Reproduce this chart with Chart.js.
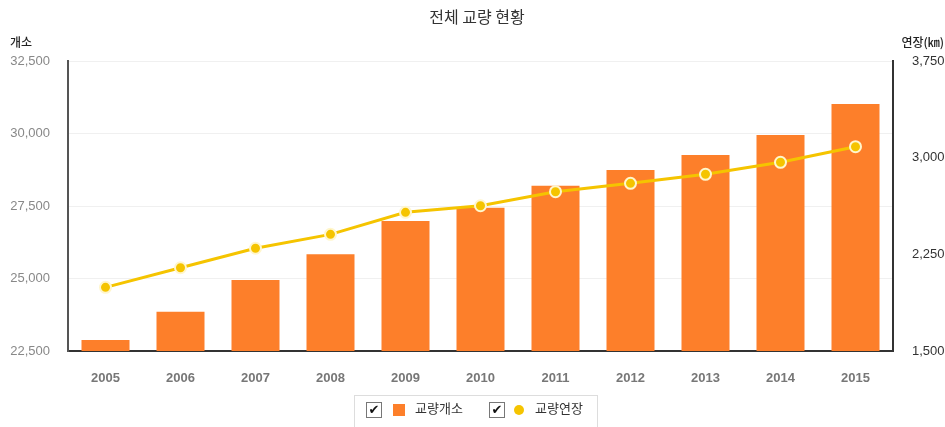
<!DOCTYPE html>
<html>
<head>
<meta charset="utf-8">
<script src="https://cdn.jsdelivr.net/npm/chart.js@4"></script>
<style>
  body { margin: 0; background: #fff; font-family: "Liberation Sans", Arial, sans-serif; }
  #wrap { position: relative; width: 945px; height: 427px; }
  #legend {
    position: absolute; left: 354px; top: 395px; width: 244px; height: 40px;
    border: 1px solid #ddd; box-sizing: border-box;
    font-family: "Noto Sans CJK KR", sans-serif; font-size: 13px; color: #333;
  }
  .chk {
    position: absolute; top: 6px; width: 14px; height: 14px; border: 1px solid #777;
    background: #fff; font-size: 13px; line-height: 14px; text-align: center; color: #111;
    font-family: "DejaVu Sans", sans-serif; font-weight: bold;
  }
  .lbl { position: absolute; top: 2px; }
</style>
</head>
<body>
<div id="wrap">
  <canvas id="bridges" width="945" height="427"></canvas>
  <div id="legend">
    <span class="chk" style="left:11px">✔</span>
    <span style="position:absolute;left:38px;top:8px;width:12px;height:12px;background:#fd7f2a"></span>
    <span class="lbl" style="left:60px">교량개소</span>
    <span class="chk" style="left:134px">✔</span>
    <span style="position:absolute;left:159px;top:9px;width:10px;height:10px;border-radius:50%;background:#f5c400"></span>
    <span class="lbl" style="left:180px">교량연장</span>
  </div>
</div>
<script>
// Data
var years = ["2005", "2006", "2007", "2008", "2009", "2010", "2011", "2012", "2013", "2014", "2015"];
var bridgeCount = [22880, 23855, 24948, 25834, 26983, 27441, 28200, 28741, 29259, 29948, 31017];
var bridgeLength = [1994, 2146, 2297, 2405, 2576, 2627, 2736, 2801, 2871, 2964, 3085];
var countTicks = [22500, 25000, 27500, 30000, 32500];
var lengthTicks = [1500, 2250, 3000, 3750];

// Title and the two axis captions
var captions = {
  id: "captions",
  afterDraw: function (chart) {
    var ctx = chart.ctx;
    ctx.save();
    ctx.fillStyle = "#333";
    ctx.textBaseline = "middle";
    ctx.font = "16px 'Noto Sans CJK KR'";
    ctx.textAlign = "center";
    ctx.fillText("전체 교량 현황", 477, 17);
    ctx.fillStyle = "#222";
    ctx.font = "500 12px 'Noto Sans CJK KR'";
    ctx.textAlign = "left";
    ctx.fillText("개소", 10, 42);
    ctx.textAlign = "right";
    ctx.fillText("연장(㎞)", 944, 42);
    ctx.restore();
  }
};

var ctx = document.getElementById("bridges").getContext("2d");
var chart_bridges = new Chart(ctx, {
  data: {
    labels: years,
    datasets: [{
      type: "line",
      label: "교량연장",
      data: bridgeLength,
      yAxisID: "y1",
      order: 0,
      borderColor: "#f5c400",
      borderWidth: 3,
      tension: 0,
      pointRadius: 5.5,
      pointBorderWidth: 2,
      pointBackgroundColor: "#f5c400",
      pointBorderColor: "#fff6cc"
    }, {
      type: "bar",
      label: "교량개소",
      data: bridgeCount,
      yAxisID: "y",
      order: 1,
      backgroundColor: "#fd7f2a",
      categoryPercentage: 1,
      barPercentage: 0.64
    }]
  },
  options: {
    responsive: false,
    animation: false,
    layout: { padding: { top: 61 } },
    plugins: {
      legend: { display: false },
      title: { display: false },
      tooltip: { enabled: false }
    },
    scales: {
      x: {
        grid: { display: false, drawTicks: false },
        border: { color: "#333", width: 2 },
        ticks: { color: "#777", padding: 20, font: { family: "Liberation Sans", size: 13, weight: "bold" } },
        afterFit: function (s) { s.height = 76; }
      },
      y: {
        position: "left",
        min: countTicks[0],
        max: countTicks[countTicks.length - 1],
        afterBuildTicks: function (s) { s.ticks = countTicks.map(function (v) { return { value: v }; }); },
        grid: { color: "#f0f0f0", drawTicks: false },
        border: { color: "#555", width: 2 },
        ticks: {
          color: "#888", padding: 18,
          font: { family: "Liberation Sans", size: 13 },
          callback: function (v) { return v.toLocaleString("en-US"); }
        },
        afterFit: function (s) { s.width = 68; }
      },
      y1: {
        position: "right",
        min: lengthTicks[0],
        max: lengthTicks[lengthTicks.length - 1],
        afterBuildTicks: function (s) { s.ticks = lengthTicks.map(function (v) { return { value: v }; }); },
        grid: { display: false, drawTicks: false },
        border: { color: "#333", width: 2 },
        ticks: {
          color: "#333", padding: 19,
          font: { family: "Liberation Sans", size: 13 },
          callback: function (v) { return v.toLocaleString("en-US"); }
        },
        afterFit: function (s) { s.width = 52; }
      }
    }
  },
  plugins: [captions]
});
</script>
</body>
</html>
